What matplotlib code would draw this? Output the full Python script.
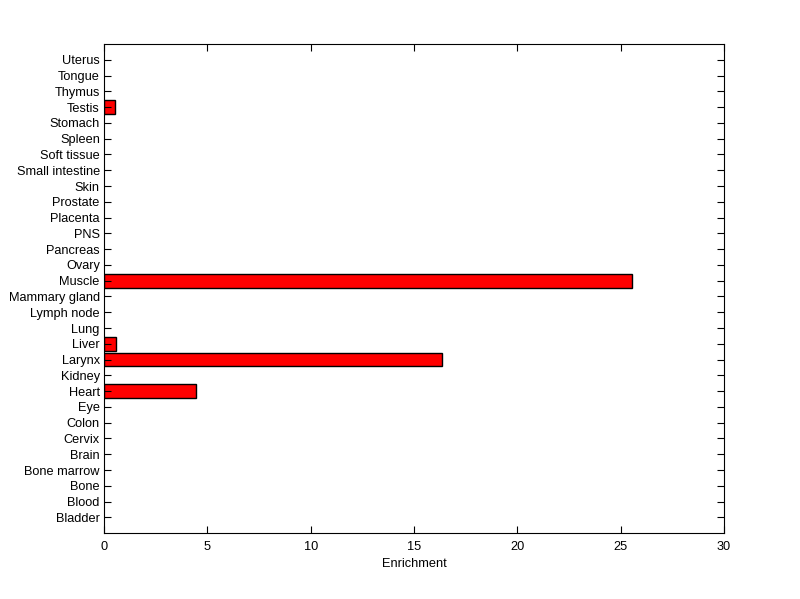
import numpy as np
import matplotlib
matplotlib.use('Agg')
import matplotlib.pyplot as plt

tissues = ['Bladder', 'Blood', 'Bone', 'Bone marrow', 'Brain', 'Cervix', 'Colon',
           'Eye', 'Heart', 'Kidney', 'Larynx', 'Liver', 'Lung', 'Lymph node',
           'Mammary gland', 'Muscle', 'Ovary', 'Pancreas', 'PNS', 'Placenta',
           'Prostate', 'Skin', 'Small intestine', 'Soft tissue', 'Spleen',
           'Stomach', 'Testis', 'Thymus', 'Tongue', 'Uterus']
enrichment = [0, 0, 0, 0, 0, 0, 0,
              0, 4.43, 0, 16.34, 0.56, 0, 0,
              0, 25.53, 0, 0, 0, 0,
              0, 0, 0, 0, 0,
              0, 0.55, 0, 0, 0]

plt.rcParams['font.family'] = ['Liberation Sans', 'DejaVu Sans']
plt.rcParams['font.size'] = 9.2

fig = plt.figure(figsize=(8, 5.99), dpi=100)
ax = fig.add_axes([0.13, 0.11, 0.775, 0.8165])

pos = np.arange(1, len(tissues) + 1)
vals = np.array(enrichment)
mask = vals > 0
ax.barh(pos[mask], vals[mask], height=0.87, color='#ff0000', edgecolor='black', linewidth=1)

ax.set_xlim(0, 30)
ax.set_ylim(0, len(tissues) + 1)
ax.set_xticks([0, 5, 10, 15, 20, 25, 30])
ax.set_yticks(pos)
ax.set_yticklabels(tissues)
ax.set_xlabel('Enrichment', labelpad=3)

ax.tick_params(direction='in', top=True, right=True, length=5, width=0.8)
ax.tick_params(axis='x', pad=6)
ax.tick_params(axis='y', pad=3)
for s in ax.spines.values():
    s.set_linewidth(0.8)

fig.savefig('out.png', dpi=100)
